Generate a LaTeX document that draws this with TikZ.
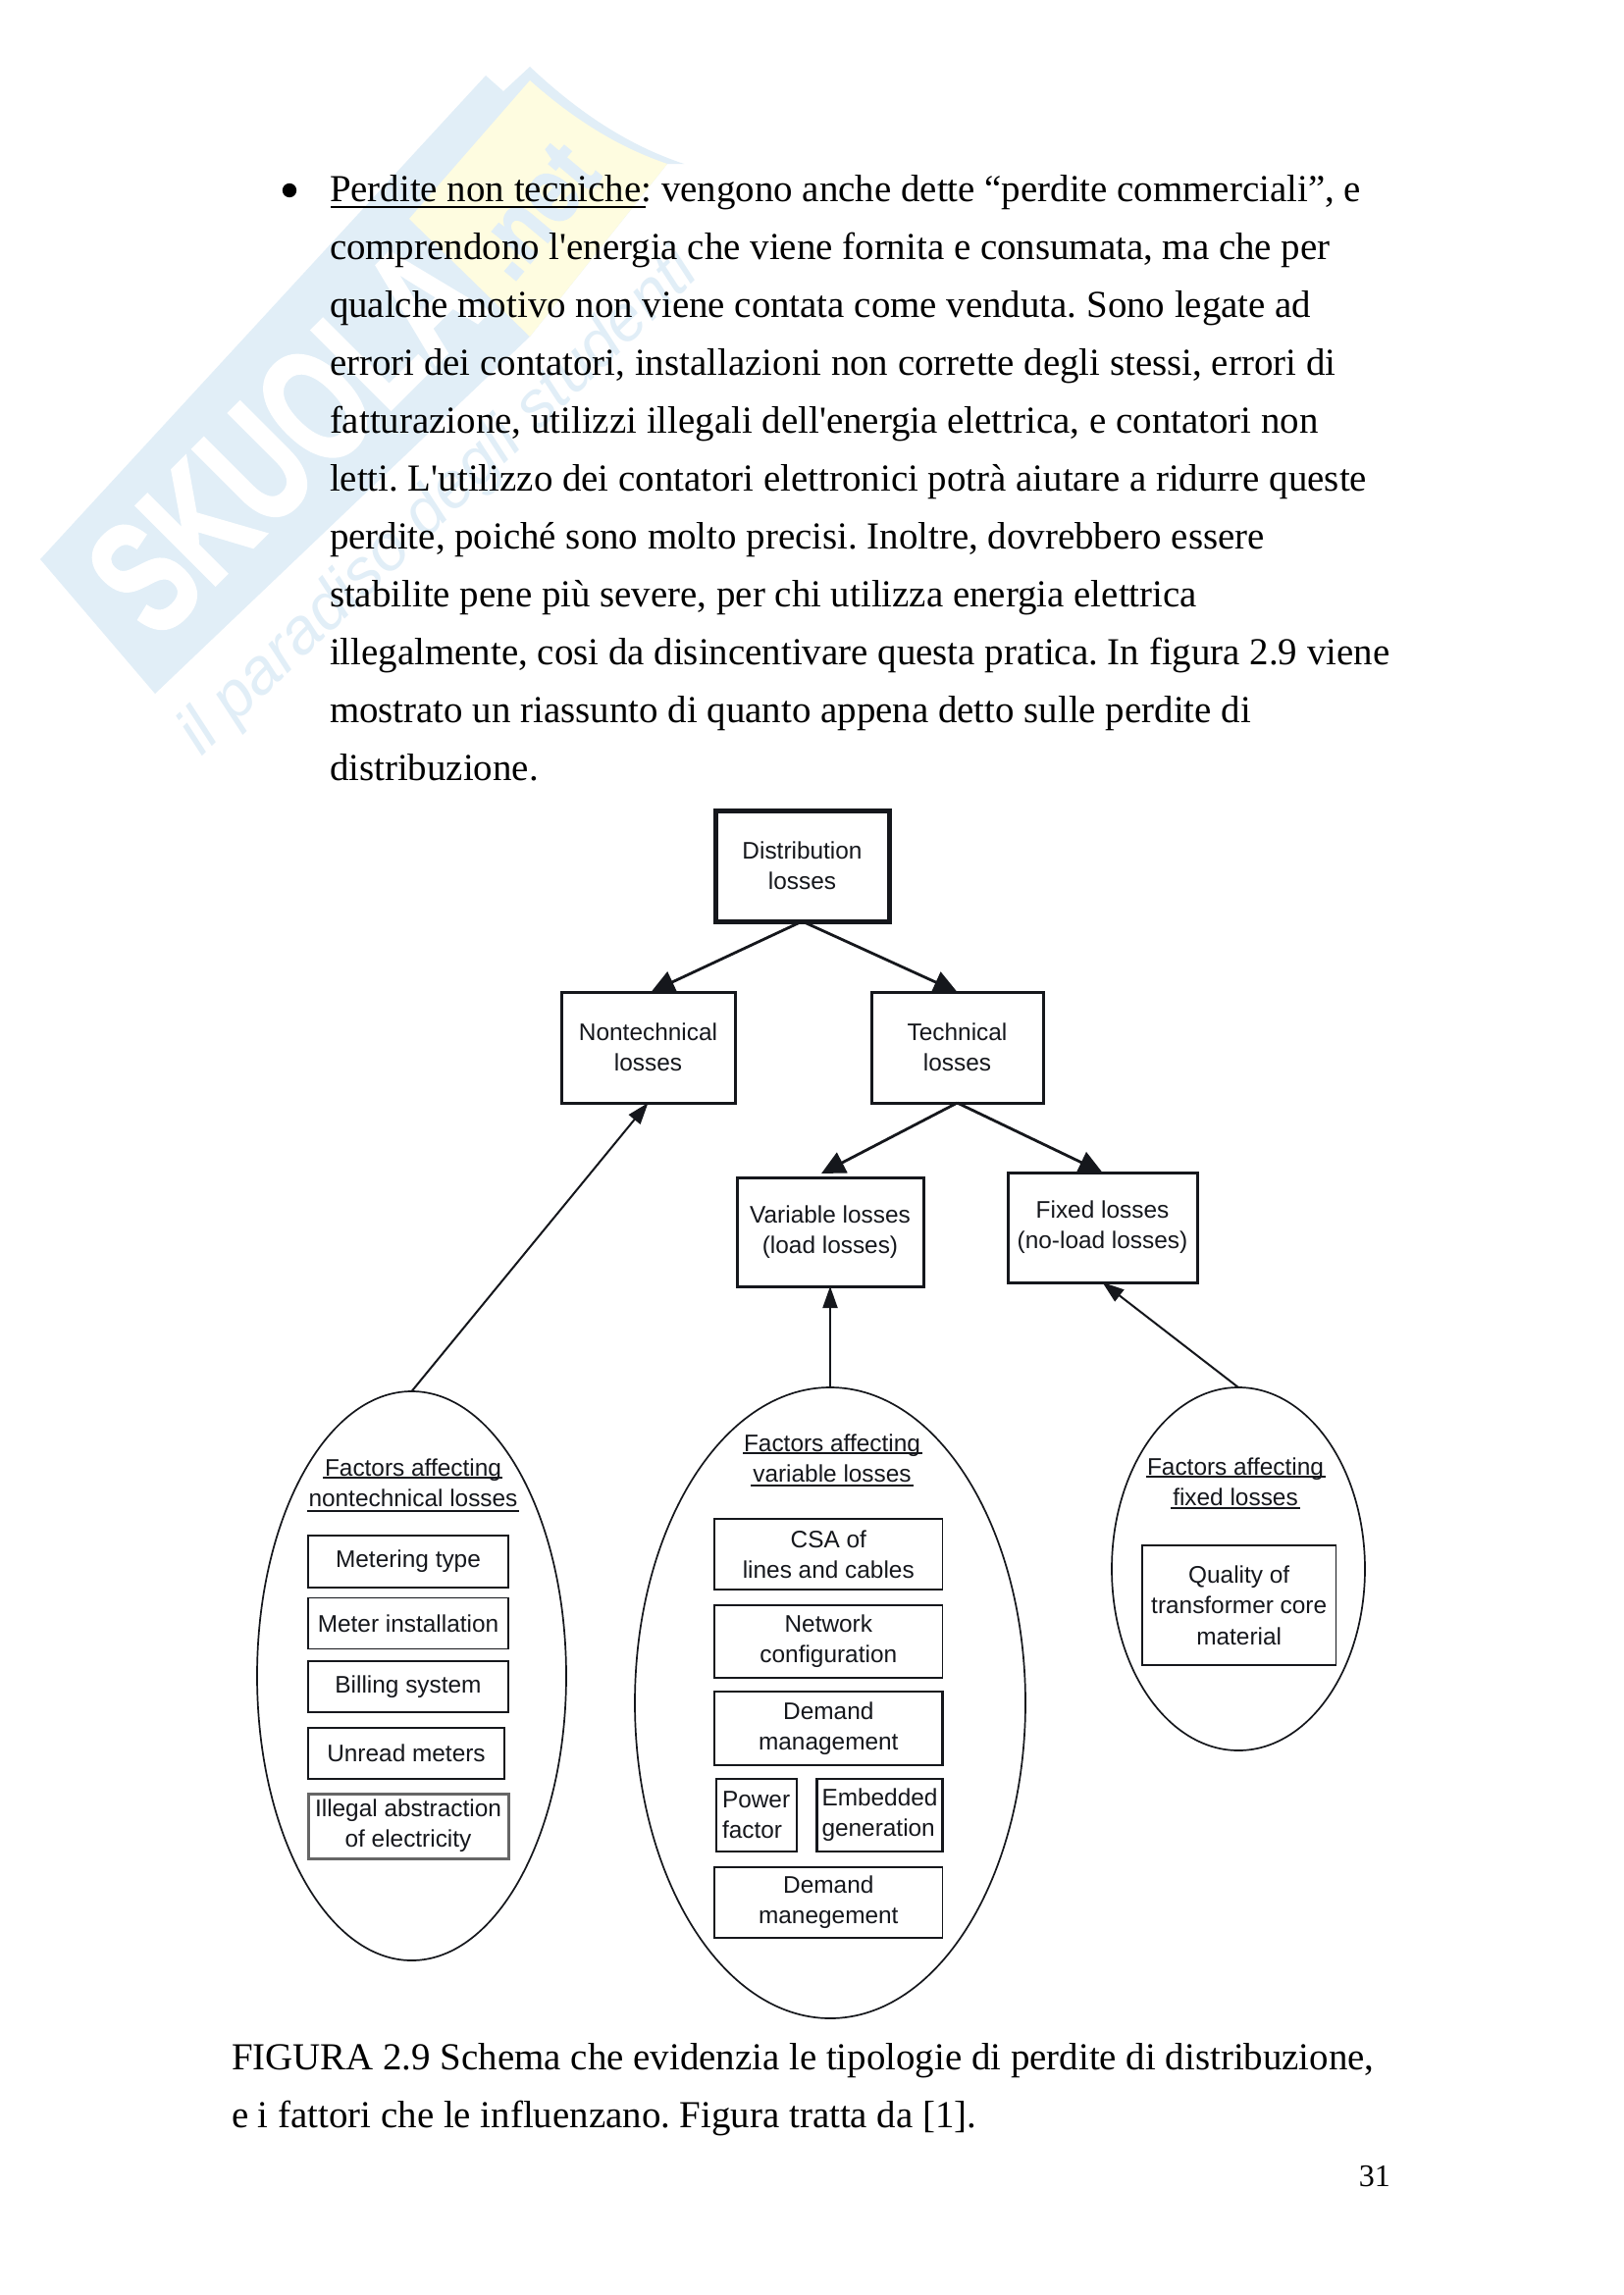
\documentclass[tikz,border=0pt]{standalone}
\usepackage{fontspec}
\usetikzlibrary{shapes.geometric,arrows.meta}
\newfontfamily\bodyfont{Liberation Serif}
\newfontfamily\diagfont{Liberation Sans}
\newfontfamily\wmfont[UprightFont=* Bold,FakeBold=2]{Liberation Sans}
\definecolor{wmblue}{HTML}{E1EEF7}
\definecolor{wmyellow}{HTML}{FEFCE0}
\definecolor{ink}{HTML}{15171C}
\frenchspacing
\tikzset{
  bodyline/.style={anchor=base west,inner sep=0pt,outer sep=0pt,text=black,font=\fontsize{38.9}{46}\bodyfont},
  capline/.style={bodyline},
  boxbase/.style={rectangle,draw=ink,fill=white,inner sep=0pt,outer sep=0pt,text=ink,align=center,font=\fontsize{24.4}{31}\diagfont},
  mainbox/.style={boxbase,line width=3pt},
  rootbox/.style={boxbase,line width=5pt},
  factorbox/.style={boxbase,line width=1.8pt},
  heavyfactor/.style={boxbase,line width=2.8pt},
  greyfactor/.style={boxbase,line width=3pt,draw=gray!80!black},
  factorell/.style={ellipse,draw=ink,fill=white,line width=1.7pt,inner sep=0pt,outer sep=0pt},
  factortitle/.style={inner sep=0pt,outer sep=0pt,text=ink,align=center,font=\fontsize{24.4}{31}\diagfont},
  topar/.style={draw=ink,line width=2.8pt,-{Triangle[length=24pt,width=23pt]}},
  lowar/.style={draw=ink,line width=2pt,-{Triangle[length=22pt,width=15pt]}},
  rule/.style={draw=ink,line width=1.8pt}
}
\begin{document}
\begin{tikzpicture}[x=1pt,y=-1pt]
\useasboundingbox (0,0) rectangle (1654,2339);
\fill[white] (0,0) rectangle (1654,2339);
% watermark
\fill[wmblue] (41,570) -- (495,77) -- (513,93) -- (540,68) .. controls (590,115) and (640,148) .. (697,167) -- (680,167) -- (540,343) -- (158,707) -- cycle;
\fill[wmyellow] (417,223) -- (540,82) .. controls (585,122) and (630,150) .. (680,167) -- (540,343) -- cycle;
\node[rotate=45,text=white,inner sep=0pt] (wmname) at (290,445) {\fontsize{165}{165}\wmfont\scalebox{.69}[1]{SKUOLA}};
\node[rotate=50,text=wmblue,inner sep=0pt] (wmnet) at (545,215) {\fontsize{95}{95}\wmfont\scalebox{.85}[1]{.net}};
\node[rotate=44,anchor=base west,text=wmblue,inner sep=0pt] (wmslogan) at (205,772) {\fontsize{66}{66}\diagfont\itshape il paradiso degli studenti};
% body
\fill[black] (295,194) circle (7.2);
\node[bodyline] (l1) at (336,205) {Perdite non tecniche: vengono anche dette “perdite commerciali”, e};
\node[bodyline] (l2) at (336,264) {comprendono l'energia che viene fornita e consumata, ma che per};
\node[bodyline] (l3) at (336,323) {qualche motivo non viene contata come venduta. Sono legate ad};
\node[bodyline] (l4) at (336,382) {errori dei contatori, installazioni non corrette degli stessi, errori di};
\node[bodyline] (l5) at (336,441) {fatturazione, utilizzi illegali dell'energia elettrica, e contatori non};
\node[bodyline] (l6) at (336,500) {letti. L'utilizzo dei contatori elettronici potrà aiutare a ridurre queste};
\node[bodyline] (l7) at (336,559) {perdite, poiché sono molto precisi. Inoltre, dovrebbero essere};
\node[bodyline] (l8) at (336,618) {stabilite pene più severe, per chi utilizza energia elettrica};
\node[bodyline] (l9) at (336,677) {illegalmente, cosi da disincentivare questa pratica. In figura 2.9 viene};
\node[bodyline] (l10) at (336,736) {mostrato un riassunto di quanto appena detto sulle perdite di};
\node[bodyline] (l11) at (336,795) {distribuzione.};
\draw[black,line width=2.5pt] (337,211) -- (658,211);
% hierarchy
\node[rootbox,minimum width=177pt,minimum height=113pt] (dist) at (817.5,882.5) {Distribution\\losses};
\node[mainbox,minimum width=177pt,minimum height=113pt] (nontech) at (660.5,1067.5) {Nontechnical\\losses};
\node[mainbox,minimum width=175pt,minimum height=113pt] (tech) at (975.5,1067.5) {Technical\\losses};
\node[mainbox,minimum width=190pt,minimum height=111pt] (var) at (846,1255.5) {Variable losses\\(load losses)};
\node[mainbox,minimum width=193pt,minimum height=112pt] (fix) at (1123.5,1251) {Fixed losses\\(no-load losses)};
% ellipses
\node[factorell,minimum width=315pt,minimum height=580pt] (e1) at (419.5,1708) {};
\node[factorell,minimum width=398pt,minimum height=643pt] (e2) at (846,1735.5) {};
\node[factorell,minimum width=258pt,minimum height=370pt] (e3) at (1262,1599) {};
% titles
\node[factortitle] (t1) at (421,1511) {Factors affecting\\nontechnical losses};
\draw[rule] (329,1506) -- (512,1506) (313,1540) -- (529,1540);
\node[factortitle] (t2) at (848,1486) {Factors affecting\\variable losses};
\draw[rule] (757,1481) -- (940,1481) (765,1514) -- (931,1514);
\node[factortitle] (t3) at (1259,1510) {Factors affecting\\fixed losses};
\draw[rule] (1168,1505) -- (1351,1505) (1193,1537) -- (1325,1537);
% left boxes
\node[factorbox,minimum width=204pt,minimum height=53pt] (b1) at (416,1591.5) {Metering type};
\node[factorbox,minimum width=204pt,minimum height=52pt] (b2) at (416,1654.5) {Meter installation};
\node[heavyfactor,minimum width=204pt,minimum height=52pt] (b3) at (416,1719) {Billing system};
\node[heavyfactor,minimum width=200pt,minimum height=52pt] (b4) at (414,1787) {Unread meters};
\node[greyfactor,minimum width=204pt,minimum height=66pt] (b5) at (416,1861) {Illegal abstraction\\of electricity};
% middle boxes
\node[factorbox,minimum width=232.5pt,minimum height=72pt] (c1) at (844.3,1584) {CSA of\\lines and cables};
\node[factorbox,minimum width=232.5pt,minimum height=74pt] (c2) at (844.3,1673) {Network\\configuration};
\node[heavyfactor,minimum width=232.5pt,minimum height=75pt] (c3) at (844.3,1761.5) {Demand\\management};
\node[heavyfactor,align=left,minimum width=82pt,minimum height=74pt,text width=70pt] (c4) at (771,1850) {Power\\factor};
\node[heavyfactor,align=left,minimum width=128pt,minimum height=74pt,text width=118pt] (c5) at (896.5,1850) {Embedded\\generation};
\node[factorbox,minimum width=232.5pt,minimum height=72pt] (c6) at (844.3,1939) {Demand\\manegement};
% right box
\node[factorbox,minimum width=197.5pt,minimum height=122pt,font=\fontsize{24.4}{31.5}\diagfont] (d1) at (1262.7,1636) {Quality of\\transformer core\\material};
% connectors
\draw[topar] (dist.south) -- ([xshift=3pt]nontech.north);
\draw[topar] (dist.south) -- (tech.north);
\draw[topar] (tech.south) -- ([xshift=-9pt,yshift=4pt]var.north);
\draw[topar] (tech.south) -- (fix.north);
\draw[lowar] (e1.north) -- (nontech.south);
\draw[lowar] (e2.north) -- (var.south);
\draw[lowar] (e3.north) -- (fix.south);
% caption
\node[capline] (cap1) at (236,2109) {FIGURA 2.9 Schema che evidenzia le tipologie di perdite di distribuzione,};
\node[capline] (cap2) at (236,2168) {e i fattori che le influenzano. Figura tratta da [1].};
\node[anchor=base east,inner sep=0pt,text=black,font=\fontsize{32}{38}\bodyfont] (pageno) at (1417,2228) {31};
\end{tikzpicture}
\end{document}
